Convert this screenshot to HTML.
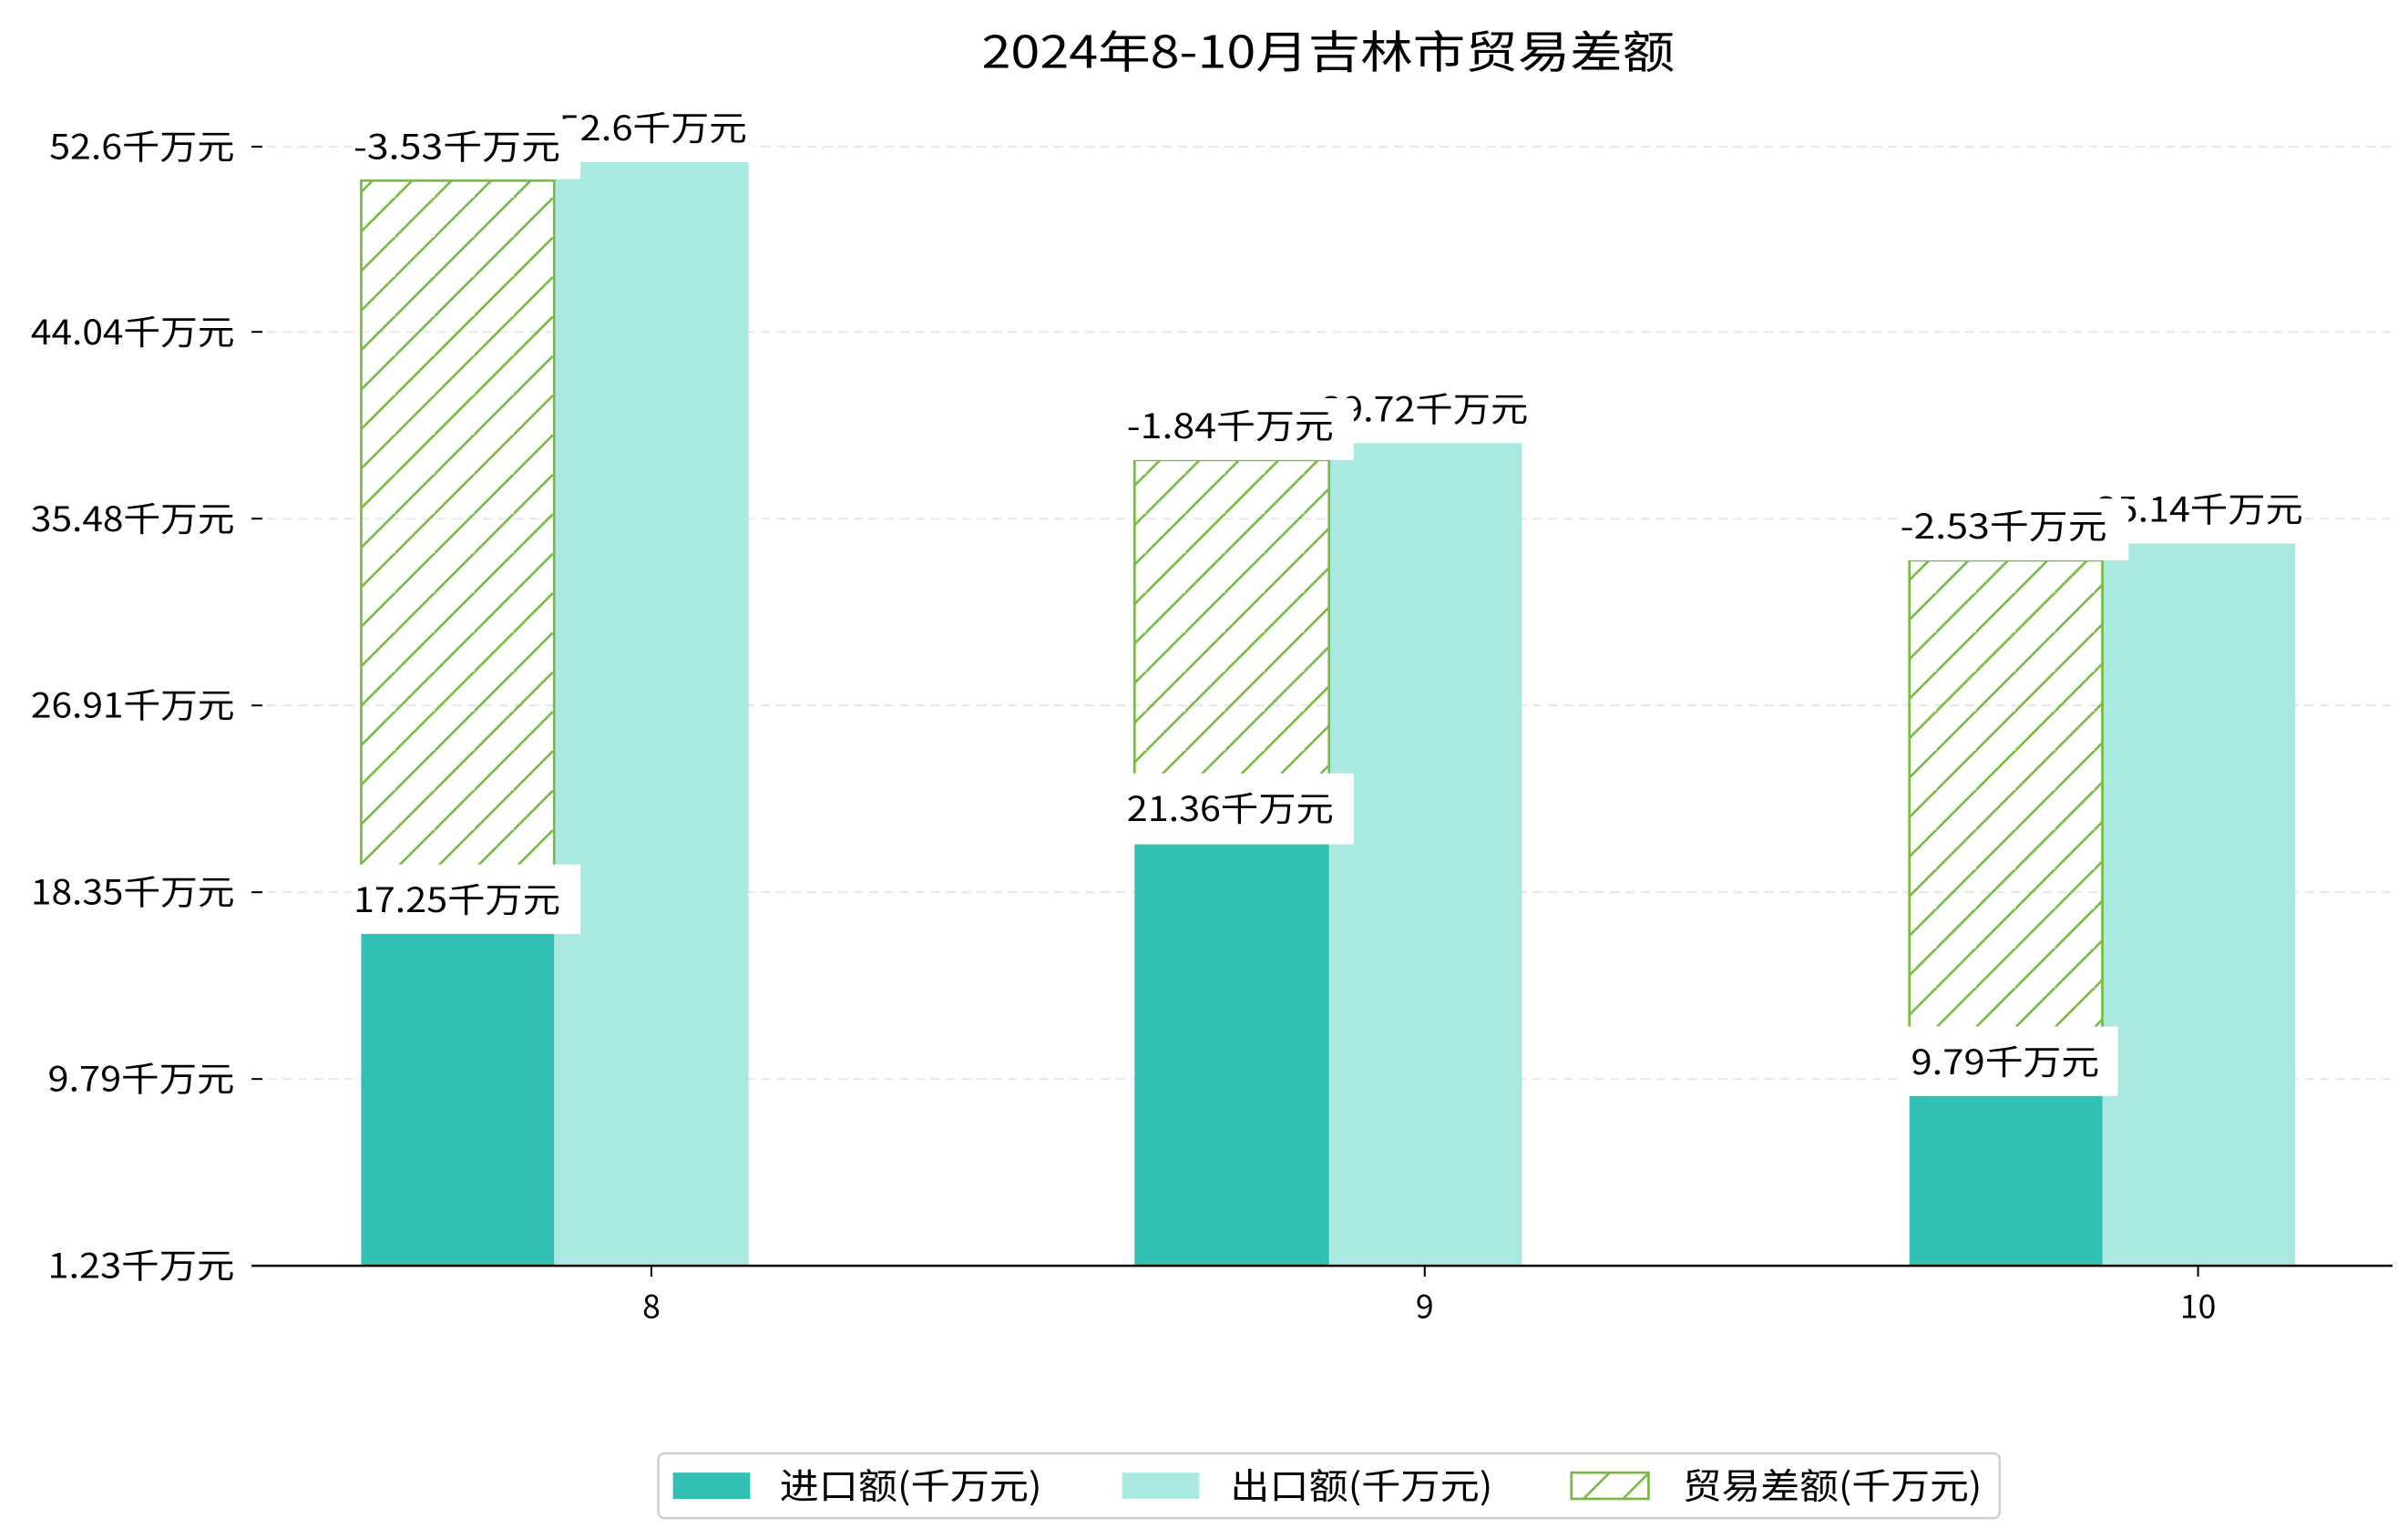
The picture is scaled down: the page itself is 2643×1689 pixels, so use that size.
<!DOCTYPE html>
<html><head><meta charset="utf-8"><style>html,body{margin:0;padding:0;background:#fff}svg{display:block}</style></head>
<body>
<svg width="2643" height="1689" viewBox="0 0 1560 997" preserveAspectRatio="none" xmlns="http://www.w3.org/2000/svg" font-family="'WenQuanYi Zen Hei','Noto Sans CJK SC',sans-serif">
<defs>
<pattern id="h" patternUnits="userSpaceOnUse" width="25.6" height="25.6">
<path d="M-2,27.6 L27.6,-2 M-12,12 L12,-12 M13.6,39.2 L39.2,13.6" stroke="#77bb44" stroke-width="1.6"/>
</pattern>
</defs>
<rect width="1560" height="997" fill="#fff"/>
<text x="636" y="44" font-size="29" textLength="449" lengthAdjust="spacingAndGlyphs">2024年8-10月吉林市贸易差额</text>
<g stroke="#e8e8e8" stroke-width="1.2" stroke-dasharray="6,4">
<line x1="163" x2="1550" y1="95" y2="95"/><line x1="163" x2="1550" y1="215" y2="215"/>
<line x1="163" x2="1550" y1="336" y2="336"/><line x1="163" x2="1550" y1="457" y2="457"/>
<line x1="163" x2="1550" y1="578" y2="578"/><line x1="163" x2="1550" y1="699" y2="699"/>
</g>
<g font-size="22">
<text x="32" y="103" textLength="120" lengthAdjust="spacingAndGlyphs">52.6千万元</text>
<text x="20" y="223" textLength="132" lengthAdjust="spacingAndGlyphs">44.04千万元</text>
<text x="20" y="344" textLength="132" lengthAdjust="spacingAndGlyphs">35.48千万元</text>
<text x="20" y="465" textLength="132" lengthAdjust="spacingAndGlyphs">26.91千万元</text>
<text x="20" y="586" textLength="132" lengthAdjust="spacingAndGlyphs">18.35千万元</text>
<text x="31" y="707" textLength="121" lengthAdjust="spacingAndGlyphs">9.79千万元</text>
<text x="31" y="828" textLength="121" lengthAdjust="spacingAndGlyphs">1.23千万元</text>
</g>
<g stroke="#000" stroke-width="1.2">
<line x1="163" x2="170" y1="95" y2="95"/><line x1="163" x2="170" y1="215" y2="215"/>
<line x1="163" x2="170" y1="336" y2="336"/><line x1="163" x2="170" y1="457" y2="457"/>
<line x1="163" x2="170" y1="578" y2="578"/><line x1="163" x2="170" y1="699" y2="699"/>
</g>
<rect x="359" y="105" width="126" height="715" fill="#aae8e2"/>
<rect x="861" y="287" width="125" height="533" fill="#aae8e2"/>
<rect x="1362" y="352" width="125" height="468" fill="#aae8e2"/>
<g stroke="#77bb44" stroke-width="1.6">
<rect x="234" y="117" width="125" height="480" fill="url(#h)"/>
<rect x="735" y="298" width="126" height="240" fill="url(#h)"/>
<rect x="1237" y="363" width="125" height="340" fill="url(#h)"/>
</g>
<rect x="234" y="596" width="125" height="224" fill="#31c0b3"/>
<rect x="735" y="540" width="126" height="280" fill="#31c0b3"/>
<rect x="1237" y="702" width="125" height="118" fill="#31c0b3"/>
<g font-size="22">
<rect x="364" y="66" width="124" height="39" fill="#fff"/><text x="362" y="91" textLength="122" lengthAdjust="spacingAndGlyphs">52.6千万元</text>
<rect x="228" y="77" width="148" height="39" fill="#fff"/><text x="229" y="103" textLength="134" lengthAdjust="spacingAndGlyphs">-3.53千万元</text>
<rect x="228" y="560" width="148" height="45" fill="#fff"/><text x="229" y="591" textLength="134" lengthAdjust="spacingAndGlyphs">17.25千万元</text>
<rect x="863" y="248" width="128" height="39" fill="#fff"/><text x="856" y="273" textLength="134" lengthAdjust="spacingAndGlyphs">39.72千万元</text>
<rect x="729" y="258" width="148" height="40" fill="#fff"/><text x="730" y="284" textLength="134" lengthAdjust="spacingAndGlyphs">-1.84千万元</text>
<rect x="729" y="501" width="148" height="46" fill="#fff"/><text x="730" y="532" textLength="134" lengthAdjust="spacingAndGlyphs">21.36千万元</text>
<rect x="1364" y="313" width="128" height="39" fill="#fff"/><text x="1358" y="338" textLength="134" lengthAdjust="spacingAndGlyphs">35.14千万元</text>
<rect x="1231" y="323" width="148" height="40" fill="#fff"/><text x="1231" y="349" textLength="134" lengthAdjust="spacingAndGlyphs">-2.53千万元</text>
<rect x="1231" y="665" width="141" height="45" fill="#fff"/><text x="1238" y="696" textLength="122" lengthAdjust="spacingAndGlyphs">9.79千万元</text>
</g>
<line x1="163" x2="1550" y1="820" y2="820" stroke="#000" stroke-width="1.5"/>
<g stroke="#000" stroke-width="1.2">
<line x1="422" x2="422" y1="820" y2="827"/><line x1="923" x2="923" y1="820" y2="827"/><line x1="1424" x2="1424" y1="820" y2="827"/>
</g>
<g font-size="21" text-anchor="middle">
<text x="422" y="854">8</text><text x="923" y="854">9</text><text x="1424" y="854">10</text>
</g>
<rect x="426.5" y="941.5" width="869" height="42" rx="4" fill="#fff" stroke="#d0d0d0" stroke-width="1.5"/>
<rect x="436" y="954" width="50" height="17" fill="#31c0b3"/>
<rect x="727" y="954" width="50" height="17" fill="#aae8e2"/>
<rect x="1018" y="954" width="50" height="17" fill="url(#h)" stroke="#77bb44" stroke-width="1.6"/>
<g font-size="23">
<text x="505" y="971" textLength="170" lengthAdjust="spacingAndGlyphs">进口额(千万元)</text>
<text x="797" y="971" textLength="170" lengthAdjust="spacingAndGlyphs">出口额(千万元)</text>
<text x="1090" y="971" textLength="194" lengthAdjust="spacingAndGlyphs">贸易差额(千万元)</text>
</g>
</svg>
</body></html>
